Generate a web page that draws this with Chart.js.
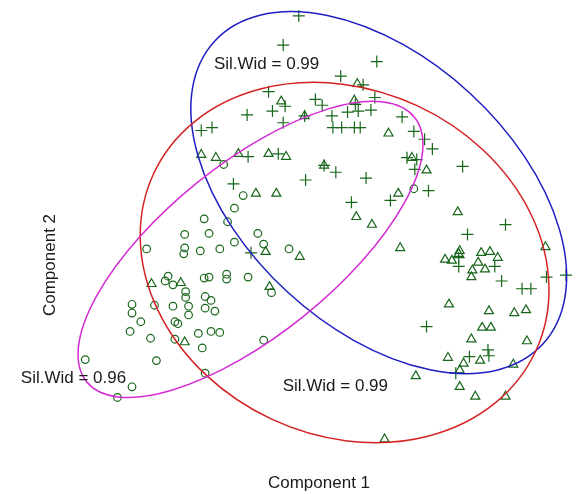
<!DOCTYPE html>
<html>
<head>
<meta charset="utf-8">
<title>Cluster plot</title>
<script src="https://cdn.jsdelivr.net/npm/chart.js@4/dist/chart.umd.min.js"></script>
<style>
  html, body { margin: 0; padding: 0; background: #ffffff; }
  #wrap { width: 580px; height: 494px; }
</style>
</head>
<body>
<div id="wrap"><canvas id="plot" width="580" height="494"></canvas></div>
<script>
// Scores on the first two principal components, one array per cluster.
const cluster1 = [ // circles
  [-0.98, 0.68], [-0.78, 0.36], [-0.87, 0.23], [-1.18, 0.12], [-0.94, 0.09],
  [-1.38, -0.04], [-1.13, -0.03], [-0.63, -0.03], [-0.87, -0.12], [-0.57, -0.14],
  [-1.77, -0.19], [-1.38, -0.18], [-1.39, -0.24], [-1.22, -0.21], [-1.02, -0.19],
  [-0.31, -0.19], [-1.55, -0.47], [-1.58, -0.52], [-1.50, -0.56], [-1.37, -0.63],
  [-1.37, -0.69], [-1.18, -0.49], [-1.13, -0.48], [-0.95, -0.45], [-0.95, -0.50],
  [-0.73, -0.48], [-0.49, -0.64], [-1.92, -0.76], [-1.92, -0.85], [-1.69, -0.77],
  [-1.50, -0.78], [-1.34, -0.78], [-1.34, -0.87], [-1.17, -0.68], [-1.11, -0.72],
  [-1.17, -0.80], [-1.07, -0.83], [-1.83, -0.94], [-1.48, -0.94], [-1.45, -0.96],
  [-1.94, -1.04], [-1.73, -1.11], [-1.48, -1.12], [-1.24, -1.06], [-1.11, -1.04],
  [-1.02, -1.05], [-1.20, -1.21], [-0.57, -1.13], [-2.40, -1.33], [-1.67, -1.34],
  [-1.17, -1.47], [-1.92, -1.61], [-2.07, -1.72], [0.97, 0.43]
];
const cluster2 = [ // triangles
  [-0.39, 1.33], [-0.15, 1.18], [0.39, 1.51], [0.36, 1.34], [-1.21, 0.78],
  [-1.06, 0.75], [-0.83, 0.79], [-0.52, 0.79], [-0.34, 0.76], [-0.65, 0.38],
  [-0.44, 0.38], [0.05, 0.67], [0.71, 1.00], [0.95, 0.75], [1.10, 0.62],
  [0.81, 0.38], [0.38, 0.14], [0.54, 0.06], [0.83, -0.18], [-0.20, -0.27],
  [-0.55, -0.22], [-1.72, -0.55], [-1.42, -0.54], [-0.51, -0.58], [-1.38, -1.15],
  [1.42, 0.19], [2.32, -0.17], [1.29, -0.30], [1.36, -0.31], [1.43, -0.24],
  [1.44, -0.21], [1.66, -0.23], [1.75, -0.22], [1.83, -0.28], [1.63, -0.33],
  [1.70, -0.40], [1.57, -0.41], [1.56, -0.48], [1.33, -0.76], [1.74, -0.83],
  [2.00, -0.85], [2.12, -0.82], [1.67, -1.00], [1.76, -1.00], [1.56, -1.12],
  [2.13, -1.14], [1.32, -1.31], [1.48, -1.37], [1.65, -1.34], [1.99, -1.38],
  [1.44, -1.44], [0.99, -1.50], [1.44, -1.61], [1.60, -1.71], [1.91, -1.71],
  [0.67, -2.15]
];
const cluster3 = [ // plus signs
  [-0.21, 2.21], [-0.37, 1.91], [0.59, 1.74], [0.22, 1.59], [0.45, 1.50],
  [-0.52, 1.43], [-0.35, 1.28], [-0.04, 1.35], [0.03, 1.29], [0.37, 1.30],
  [0.57, 1.37], [0.53, 1.24], [0.29, 1.22], [0.40, 1.23], [0.13, 1.18],
  [0.14, 1.06], [0.23, 1.06], [0.36, 1.06], [0.42, 1.06], [-0.74, 1.19],
  [-0.48, 1.23], [-0.37, 1.11], [-1.21, 1.03], [-1.10, 1.06], [-0.73, 0.76],
  [-0.42, 0.79], [-0.88, 0.48], [-0.14, 0.52], [0.17, 0.60], [0.48, 0.54],
  [0.85, 1.17], [0.97, 1.02], [1.08, 0.94], [1.16, 0.84], [0.90, 0.75],
  [1.00, 0.73], [0.98, 0.63], [1.47, 0.66], [1.12, 0.41], [0.33, 0.29],
  [0.73, 0.31], [-0.70, -0.23], [1.91, 0.06], [1.52, -0.04], [1.43, -0.28],
  [1.43, -0.37], [1.80, -0.37], [1.87, -0.52], [2.08, -0.60], [2.17, -0.60],
  [2.33, -0.48], [2.53, -0.46], [1.10, -0.99], [1.73, -1.23], [1.74, -1.29],
  [1.54, -1.30], [1.40, -1.47], [-0.15, 1.18], [0.05, 0.67]
];

// Cluster ellipses: centre, semi-axes and tilt (degrees, counter-clockwise).
const ellipseCenters = [[0.61, 0.39], [0.26, -0.33], [-0.705, -0.195]];
const ellipseAxes    = [[2.29, 1.39], [2.16, 1.78], [2.16, 0.88]];
const ellipseAngles  = [-42.7, -25, 38.9];
const ellipseColors  = ['#1e1ec4', '#d42222', '#d42ad4'];

// Silhouette width annotations.
const silLabels    = ['Sil.Wid = 0.99', 'Sil.Wid = 0.99', 'Sil.Wid = 0.96'];
const silPositions = [[-0.54, 1.71], [0.165, -1.60], [-2.52, -1.52]];

const axisTitles = ['Component 1', 'Component 2'];

const toXY = arr => arr.map(p => ({ x: p[0], y: p[1] }));
const pointColor = '#17661a';
const FONT = '17px "Liberation Sans", Arial, Helvetica, sans-serif';

const overlay = {
  id: 'clusterOverlay',
  afterDatasetsDraw(chart) {
    const { ctx, scales: { x, y } } = chart;
    const pxPerX = Math.abs(x.getPixelForValue(1) - x.getPixelForValue(0));
    const pxPerY = Math.abs(y.getPixelForValue(1) - y.getPixelForValue(0));
    ctx.save();
    ellipseCenters.forEach((c, i) => {
      ctx.beginPath();
      ctx.ellipse(
        x.getPixelForValue(c[0]), y.getPixelForValue(c[1]),
        ellipseAxes[i][0] * pxPerX, ellipseAxes[i][1] * pxPerY,
        -ellipseAngles[i] * Math.PI / 180, 0, 2 * Math.PI
      );
      ctx.strokeStyle = ellipseColors[i];
      ctx.lineWidth = 1.5;
      ctx.stroke();
    });
    ctx.fillStyle = '#1a1a1a';
    ctx.font = FONT;
    ctx.textAlign = 'center';
    ctx.textBaseline = 'middle';
    silLabels.forEach((t, i) => {
      ctx.fillText(t, x.getPixelForValue(silPositions[i][0]), y.getPixelForValue(silPositions[i][1]));
    });
    // axis titles
    ctx.fillText(axisTitles[0], 319, 483);
    ctx.translate(50, 265);
    ctx.rotate(-Math.PI / 2);
    ctx.fillText(axisTitles[1], 0, 0);
    ctx.restore();
  }
};

new Chart(document.getElementById('plot'), {
  type: 'scatter',
  data: {
    datasets: [
      { label: '1', data: toXY(cluster1), pointStyle: 'circle', pointRadius: 3.8 },
      { label: '2', data: toXY(cluster2), pointStyle: 'triangle', pointRadius: 5.2 },
      { label: '3', data: toXY(cluster3), pointStyle: 'cross', pointRadius: 6 }
    ].map(d => Object.assign(d, {
      borderColor: pointColor,
      backgroundColor: 'rgba(0,0,0,0)',
      pointBorderWidth: 1.2,
      pointHoverRadius: d.pointRadius,
      clip: false
    }))
  },
  options: {
    responsive: false,
    animation: false,
    devicePixelRatio: 1,
    layout: { padding: 0 },
    plugins: { legend: { display: false }, tooltip: { enabled: false } },
    scales: {
      x: { type: 'linear', min: -3.2, max: 2.6, display: false },
      y: { type: 'linear', min: -2.64, max: 2.30, display: false }
    }
  },
  plugins: [overlay]
});
</script>
</body>
</html>
